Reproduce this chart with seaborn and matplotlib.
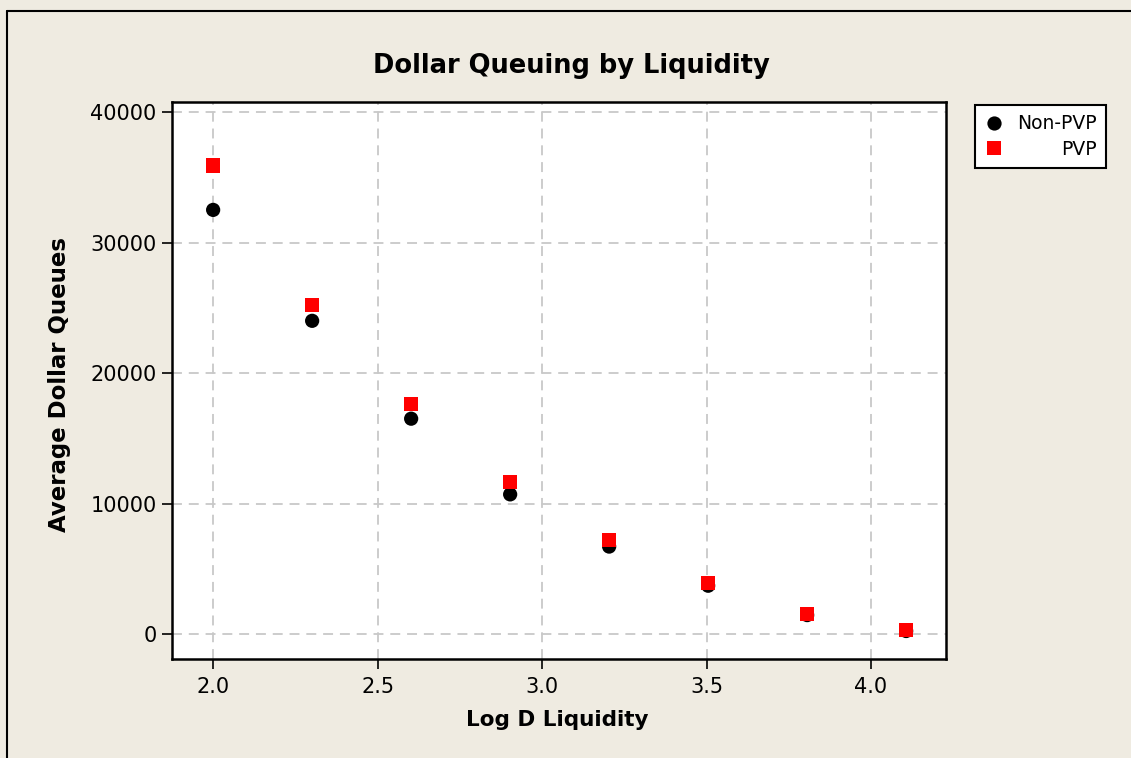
import matplotlib
matplotlib.use("Agg")
import matplotlib.pyplot as plt
from matplotlib.lines import Line2D
import seaborn as sns
import pandas as pd

# data
log_liquidity = [2.000, 2.301, 2.602, 2.903, 3.204, 3.505, 3.806, 4.107]
non_pvp = [32500, 24000, 16500, 10700, 6700, 3700, 1450, 230]
pvp = [35900, 25200, 17600, 11650, 7200, 3900, 1550, 280]
x_ticks = [2.0, 2.5, 3.0, 3.5, 4.0]
y_ticks = [0, 10000, 20000, 30000, 40000]

df = pd.concat([
    pd.DataFrame({'Log D Liquidity': log_liquidity, 'Average Dollar Queues': non_pvp, 'Group': 'Non-PVP'}),
    pd.DataFrame({'Log D Liquidity': log_liquidity, 'Average Dollar Queues': pvp, 'Group': 'PVP'}),
], ignore_index=True)

bg = '#EFEBE1'
sns.set_style('white')
plt.rcParams['font.family'] = ['DejaVu Sans']
plt.rcParams['text.color'] = 'black'
plt.rcParams['axes.labelcolor'] = 'black'
plt.rcParams['xtick.color'] = 'black'
plt.rcParams['ytick.color'] = 'black'

fig = plt.figure(figsize=(11.31, 7.58), dpi=100, facecolor=bg)
ax = fig.add_axes([0.1521, 0.1306, 0.6843, 0.7348])
ax.set_facecolor('white')

sns.scatterplot(data=df, x='Log D Liquidity', y='Average Dollar Queues', hue='Group', style='Group',
                palette={'Non-PVP': 'black', 'PVP': 'red'}, markers={'Non-PVP': 'o', 'PVP': 's'},
                s=105, linewidth=0, ax=ax, zorder=3)

ax.set_xlim(1.875, 4.228)
ax.set_ylim(-1916, 40766)
ax.set_xticks(x_ticks)
ax.set_xticklabels([f'{t:.1f}' for t in x_ticks])
ax.set_yticks(y_ticks)
ax.set_yticklabels([str(t) for t in y_ticks])
ax.tick_params(axis='both', direction='out', length=7, width=1.2, color='black',
               labelsize=15, pad=4, left=True, bottom=True)
ax.tick_params(axis='x', pad=6)
ax.grid(True, color='#C8C8C8', linestyle=(0, (5.5, 3.8)), linewidth=1.3)
ax.set_axisbelow(True)
for sp in ax.spines.values():
    sp.set_color('black')
    sp.set_linewidth(1.8)

ax.set_xlabel('')
ax.set_ylabel('')
fig.text(0.4925, 0.05, 'Log D Liquidity', ha='center', va='center', fontsize=15.5, fontweight='bold')
fig.text(0.053, 0.4934, 'Average Dollar Queues', ha='center', va='center', rotation=90,
         fontsize=16.5, fontweight='bold')
fig.text(0.505, 0.913, 'Dollar Queuing by Liquidity', ha='center', va='center',
         fontsize=18.5, fontweight='bold')

leg = ax.legend(loc='upper left', bbox_to_anchor=(0.8621, 0.8615), bbox_transform=fig.transFigure,
                frameon=True, fancybox=False, fontsize=13.5, handletextpad=0.75,
                borderpad=0.5, labelspacing=0.35, handlelength=1.0, borderaxespad=0)
leg.get_frame().set_edgecolor('black')
leg.get_frame().set_linewidth(1.5)
leg.get_frame().set_facecolor('white')
leg.get_frame().set_alpha(1)

# right-align the legend labels by shifting the shorter ones
fig.canvas.draw()
renderer = fig.canvas.get_renderer()
widths = [t.get_window_extent(renderer).width for t in leg.get_texts()]
for t, w in zip(leg.get_texts(), widths):
    t.set_position((max(widths) - w, 0))

# outer frame lines (left and top)
fig.add_artist(Line2D([0.0066, 0.0066], [0.0, 0.986], transform=fig.transFigure, color='black', linewidth=1.5))
fig.add_artist(Line2D([0.0066, 1.0], [0.986, 0.986], transform=fig.transFigure, color='black', linewidth=1.5))

fig.savefig('out.png', dpi=100, facecolor=bg)
